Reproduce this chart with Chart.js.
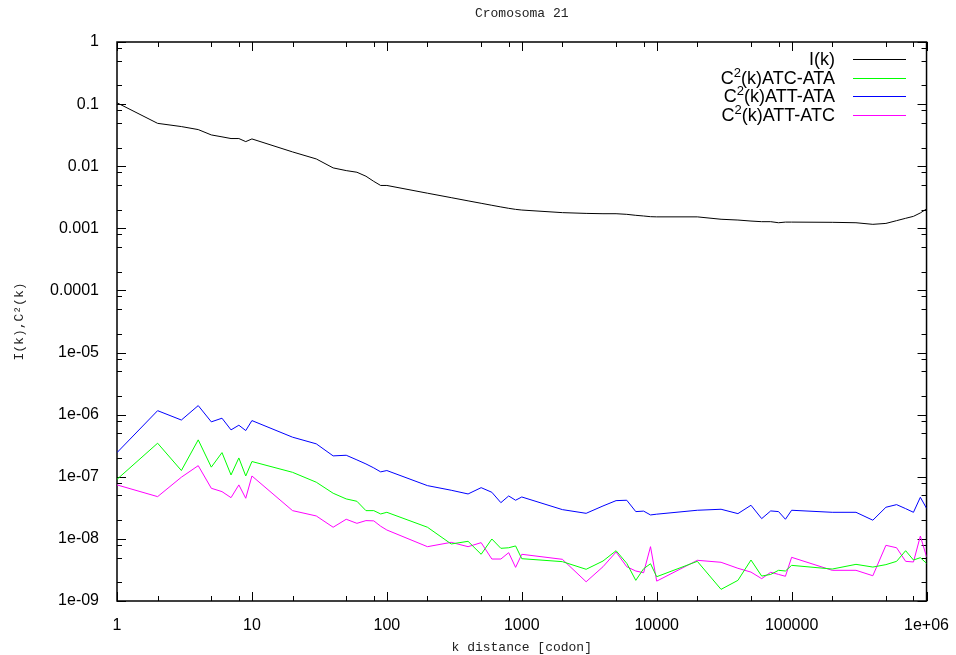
<!DOCTYPE html>
<html>
<head>
<meta charset="utf-8">
<script src="https://cdn.jsdelivr.net/npm/chart.js@4/dist/chart.umd.min.js"></script>
<style>
  html, body { margin: 0; padding: 0; background: #fff; }
  canvas { display: block; }
</style>
</head>
<body>
<canvas id="c" width="956" height="655"></canvas>
<script>
// ---- data ----
const kDistance = [
  1, 2, 3, 4, 5, 6, 7, 8, 9,
  10, 20, 30, 40, 50, 60, 70, 80, 90,
  100, 200, 300, 400, 500, 600, 700, 800, 900,
  1000, 2000, 3000, 4000, 5000, 6000, 7000, 8000, 9000,
  10000, 20000, 30000, 40000, 50000, 60000, 70000, 80000, 90000,
  100000, 200000, 300000, 400000, 500000, 600000, 700000, 800000, 900000,
  1000000
];

const seriesI = [
  0.105, 0.049, 0.0435, 0.0389, 0.0319, 0.0297, 0.0279, 0.0279, 0.0249,
  0.0275, 0.017, 0.0131, 0.0094, 0.0085, 0.0080, 0.0069, 0.0057, 0.0049,
  0.0049, 0.00368, 0.00312, 0.00277, 0.00253, 0.00235, 0.00221, 0.0021, 0.00202,
  0.00197, 0.00179, 0.00174, 0.00172, 0.00172, 0.00168, 0.00162, 0.00158, 0.00154,
  0.00153, 0.00153, 0.0014, 0.00136, 0.00131, 0.00128, 0.00128, 0.00123, 0.00126,
  0.00126, 0.00125, 0.00123, 0.00116, 0.0012, 0.00133, 0.00145, 0.00156, 0.00177,
  0.00205
];

const seriesATC_ATA = [
  9.1e-8, 3.47e-7, 1.26e-7, 3.93e-7, 1.43e-7, 2.45e-7, 1.07e-7, 2.01e-7, 1.03e-7,
  1.76e-7, 1.18e-7, 8.17e-8, 5.43e-8, 4.4e-8, 4.03e-8, 2.85e-8, 2.85e-8, 2.52e-8,
  2.68e-8, 1.54e-8, 8.28e-9, 9.14e-9, 5.65e-9, 9.96e-9, 7.05e-9, 7.2e-9, 7.7e-9,
  4.8e-9, 4.3e-9, 3.24e-9, 4.4e-9, 6.45e-9, 4.04e-9, 2.15e-9, 3.31e-9, 3.98e-9,
  2.46e-9, 4.35e-9, 1.54e-9, 2.15e-9, 4.57e-9, 2.52e-9, 2.68e-9, 3.12e-9, 3.04e-9,
  3.75e-9, 3.27e-9, 3.89e-9, 3.52e-9, 3.85e-9, 4.35e-9, 6.45e-9, 4.57e-9, 4.98e-9,
  4.04e-9
];

const seriesATT_ATA = [
  2.45e-7, 1.16e-6, 8.2e-7, 1.40e-6, 7.66e-7, 8.77e-7, 5.69e-7, 6.76e-7, 5.55e-7,
  8.03e-7, 4.34e-7, 3.39e-7, 2.17e-7, 2.22e-7, 1.87e-7, 1.61e-7, 1.39e-7, 1.20e-7,
  1.26e-7, 7.2e-8, 6.07e-8, 5.29e-8, 6.68e-8, 5.63e-8, 3.83e-8, 4.91e-8, 4.19e-8,
  4.73e-8, 2.96e-8, 2.58e-8, 3.39e-8, 4.13e-8, 4.19e-8, 2.75e-8, 2.8e-8, 2.43e-8,
  2.5e-8, 2.89e-8, 3.0e-8, 2.55e-8, 3.48e-8, 2.12e-8, 2.82e-8, 2.75e-8, 2.07e-8,
  2.89e-8, 2.68e-8, 2.68e-8, 2.0e-8, 3.23e-8, 3.56e-8, 3.07e-8, 2.68e-8, 4.68e-8,
  3.11e-8
];

const seriesATT_ATC = [
  7.4e-8, 4.79e-8, 9.84e-8, 1.51e-7, 6.53e-8, 5.77e-8, 4.61e-8, 7.4e-8, 4.51e-8,
  1.03e-7, 2.85e-8, 2.34e-8, 1.54e-8, 2.07e-8, 1.78e-8, 1.97e-8, 1.95e-8, 1.6e-8,
  1.39e-8, 7.49e-9, 8.8e-9, 7.49e-9, 8.7e-9, 4.74e-9, 4.74e-9, 6.0e-9, 3.48e-9,
  5.65e-9, 4.69e-9, 2.04e-9, 3.56e-9, 6.15e-9, 3.56e-9, 3.04e-9, 2.85e-9, 7.49e-9,
  2.09e-9, 4.52e-9, 4.2e-9, 3.36e-9, 2.92e-9, 2.29e-9, 2.9e-9, 2.68e-9, 2.5e-9,
  5.05e-9, 3.12e-9, 3.12e-9, 2.55e-9, 7.88e-9, 7.2e-9, 4.35e-9, 4.25e-9, 1.11e-8,
  5.16e-9
];

const seriesLabels = ['I(k)', 'C²(k)ATC-ATA', 'C²(k)ATT-ATA', 'C²(k)ATT-ATC'];
const seriesColors = ['#000000', '#00ff00', '#0000ff', '#ff00ff'];

const xTickValues = [1, 10, 100, 1000, 10000, 100000, 1000000];
const xTickLabels = ['1', '10', '100', '1000', '10000', '100000', '1e+06'];
const yTickValues = [1e-9, 1e-8, 1e-7, 1e-6, 1e-5, 1e-4, 1e-3, 1e-2, 1e-1, 1];
const yTickLabels = ['1e-09', '1e-08', '1e-07', '1e-06', '1e-05', '0.0001', '0.001', '0.01', '0.1', '1'];
const minorTickFactors = [2, 5, 8];

// ---- build datasets ----
const allSeries = [seriesI, seriesATC_ATA, seriesATT_ATA, seriesATT_ATC];
const datasets = allSeries.map((vals, i) => ({
  label: seriesLabels[i],
  data: kDistance.map((k, j) => ({ x: k, y: vals[j] })),
  borderColor: seriesColors[i],
  backgroundColor: seriesColors[i],
  borderWidth: 1,
  pointRadius: 0,
  tension: 0,
  fill: false
}));

// ---- gnuplot style frame with inward ticks ----
const framePlugin = {
  id: 'gpFrame',
  beforeDatasetsDraw(chart) {
    const { ctx, chartArea: a, scales } = chart;
    const xs = scales.x, ys = scales.y;
    ctx.save();
    ctx.strokeStyle = '#000';
    ctx.lineWidth = 1;
    const majorLen = 9, minorLen = 5;
    const drawX = (v, len) => {
      const px = Math.round(xs.getPixelForValue(v)) + 0.5;
      ctx.beginPath();
      ctx.moveTo(px, a.bottom); ctx.lineTo(px, a.bottom - len);
      ctx.moveTo(px, a.top); ctx.lineTo(px, a.top + len);
      ctx.stroke();
    };
    const drawY = (v, len) => {
      const py = Math.round(ys.getPixelForValue(v)) + 0.5;
      ctx.beginPath();
      ctx.moveTo(a.left, py); ctx.lineTo(a.left + len, py);
      ctx.moveTo(a.right, py); ctx.lineTo(a.right - len, py);
      ctx.stroke();
    };
    xTickValues.forEach((v, i) => {
      drawX(v, majorLen);
      if (i < xTickValues.length - 1) minorTickFactors.forEach(f => drawX(v * f, minorLen));
    });
    yTickValues.forEach((v, i) => {
      drawY(v, majorLen);
      if (i < yTickValues.length - 1) minorTickFactors.forEach(f => drawY(v * f, minorLen));
    });
    ctx.lineWidth = 1.5;
    ctx.strokeRect(a.left, a.top, a.right - a.left, a.bottom - a.top);
    ctx.restore();
  }
};

// ---- gnuplot style key: right aligned text, sample line on the right ----
const keyPlugin = {
  id: 'gpKey',
  afterDatasetsDraw(chart, args, opts) {
    const { ctx } = chart;
    ctx.save();
    const mainFont = opts.size + 'px "Liberation Sans", Arial, sans-serif';
    const supFont = opts.supSize + 'px "Liberation Sans", Arial, sans-serif';
    chart.data.datasets.forEach((ds, i) => {
      const yc = opts.top + i * opts.spacing;
      const baseline = yc + opts.baselineShift;
      const parts = ds.label.split('²');
      ctx.font = mainFont;
      let widths = parts.map(p => ctx.measureText(p).width);
      ctx.font = supFont;
      const supW = parts.length > 1 ? ctx.measureText('2').width : 0;
      const total = widths.reduce((s, w) => s + w, 0) + supW * (parts.length - 1);
      let x = opts.textRight - total;
      ctx.fillStyle = '#000';
      ctx.textBaseline = 'alphabetic';
      ctx.textAlign = 'left';
      parts.forEach((p, j) => {
        ctx.font = mainFont;
        ctx.fillText(p, x, baseline);
        x += widths[j];
        if (j < parts.length - 1) {
          ctx.font = supFont;
          ctx.fillText('2', x, baseline - opts.supRaise);
          x += supW;
        }
      });
      ctx.strokeStyle = ds.borderColor;
      ctx.lineWidth = 1;
      ctx.beginPath();
      ctx.moveTo(opts.lineStart, Math.round(yc) + 0.5);
      ctx.lineTo(opts.lineEnd, Math.round(yc) + 0.5);
      ctx.stroke();
    });
    ctx.restore();
  }
};

const tickFont = { family: '"Liberation Sans", Arial, sans-serif', size: 16 };
const monoFont = { family: '"Liberation Mono", "Courier New", monospace', size: 13 };

new Chart(document.getElementById('c'), {
  type: 'line',
  data: { datasets },
  plugins: [framePlugin, keyPlugin],
  options: {
    responsive: false,
    animation: false,
    devicePixelRatio: 1,
    layout: { padding: { left: 0, right: 27, top: 0, bottom: 0 } },
    plugins: {
      legend: { display: false },
      tooltip: { enabled: false },
      title: {
        display: true,
        text: 'Cromosoma 21',
        fullSize: false,
        color: '#222',
        font: Object.assign({}, monoFont, { weight: 'normal' }),
        padding: { top: 6, bottom: 20.4 }
      },
      gpKey: {
        top: 59, spacing: 18.7, textRight: 835, lineStart: 853, lineEnd: 906,
        size: 18, supSize: 13, baselineShift: 6, supRaise: 7
      }
    },
    scales: {
      x: {
        type: 'logarithmic',
        position: 'bottom',
        min: 1, max: 1000000,
        grid: { display: false },
        border: { display: false },
        afterBuildTicks: s => { s.ticks = xTickValues.map(v => ({ value: v })); },
        afterFit: s => { s.height = 54; },
        ticks: {
          autoSkip: false, maxRotation: 0, padding: 7,
          color: '#000', font: tickFont,
          callback: (v, i) => xTickLabels[i]
        },
        title: {
          display: true, text: 'k distance [codon]', color: '#222',
          font: monoFont, padding: { top: 0, bottom: 0 }
        }
      },
      y: {
        type: 'logarithmic',
        position: 'left',
        min: 1e-9, max: 1,
        grid: { display: false },
        border: { display: false },
        afterBuildTicks: s => { s.ticks = yTickValues.map(v => ({ value: v })); },
        afterFit: s => { s.width = 117; },
        ticks: {
          autoSkip: false, padding: 10,
          color: '#000', font: tickFont,
          callback: (v, i) => yTickLabels[i]
        },
        title: {
          display: true, text: 'I(k),C²(k)', color: '#222',
          font: monoFont, padding: { top: 12, bottom: 0 }
        }
      }
    }
  }
});
</script>
</body>
</html>
